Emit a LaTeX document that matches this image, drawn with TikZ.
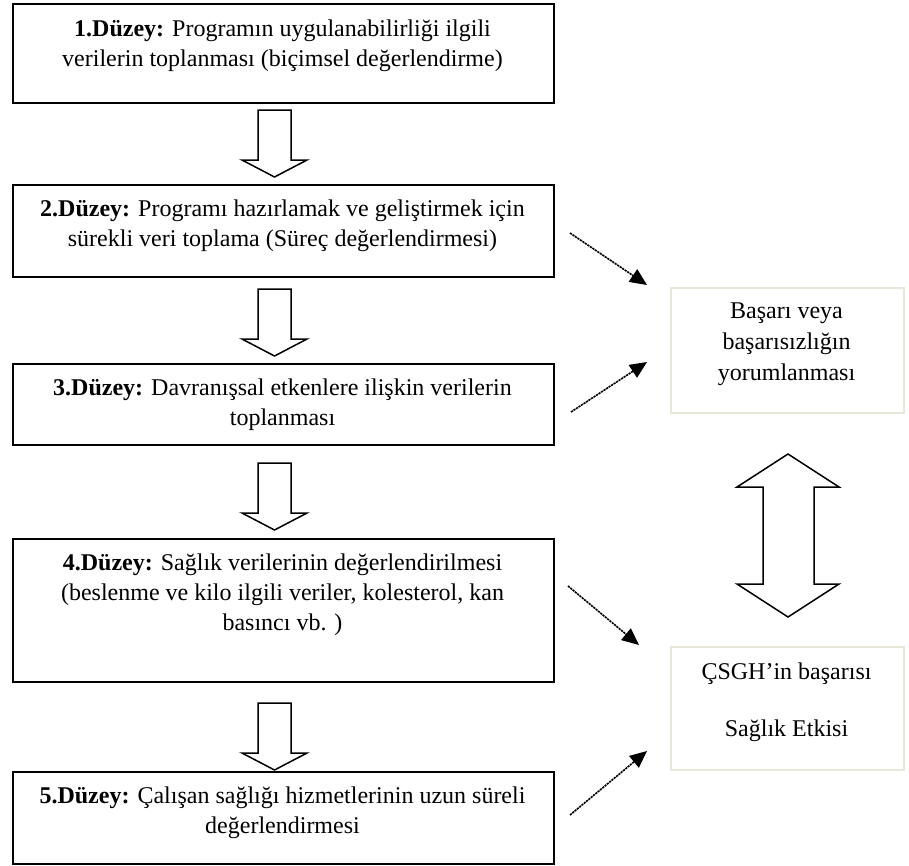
\documentclass[tikz,border=0pt]{standalone}
\usepackage{fontspec}
\setmainfont{Liberation Serif}
\usetikzlibrary{arrows.meta}
\definecolor{rborder}{HTML}{E9E6DA}
\begin{document}
\begin{tikzpicture}[x=1pt,y=-1pt,
  lbox/.style={draw=black, line width=1.6pt, minimum width=541pt, anchor=north west, inner sep=0pt},
  rbox/.style={draw=rborder, line width=1.8pt, minimum width=233pt, anchor=north west, inner sep=0pt},
  ltext/.style={font=\fontsize{24}{30}\selectfont, align=center, anchor=north, inner sep=0pt},
  hollow/.style={draw=black, fill=white, line width=1.5pt, line join=miter},
  dotarrow/.style={line width=1.6pt, dash pattern=on 2.2pt off 0.8pt, -{Triangle[length=17pt,width=15pt]}},
  downblock/.pic={\draw[hollow] (-16.5,0) -- (16.5,0) -- (16.5,50) -- (32.5,50) -- (0,67) -- (-32.5,50) -- (-16.5,50) -- cycle;}
]
\useasboundingbox (0,0) rectangle (909,865);
\fill[white] (0,0) rectangle (909,865);

% left boxes
\node[lbox, minimum height=99pt] (b1) at (12,3) {};
\node[lbox, minimum height=92pt] (b2) at (12,184) {};
\node[lbox, minimum height=81pt] (b3) at (12,363) {};
\node[lbox, minimum height=143pt] (b4) at (12,538) {};
\node[lbox, minimum height=92pt] (b5) at (12,771) {};

\node[ltext] (t1) at (282.5,20) {\textbf{1.Düzey:} Programın uygulanabilirliği ilgili\\verilerin toplanması (biçimsel değerlendirme)};
\node[ltext] (t2) at (282.5,200) {\textbf{2.Düzey:} Programı hazırlamak ve geliştirmek için\\sürekli veri toplama (Süreç değerlendirmesi)};
\node[ltext] (t3) at (282.5,379) {\textbf{3.Düzey:} Davranışsal etkenlere ilişkin verilerin\\toplanması};
\node[ltext] (t4) at (282.5,554) {\textbf{4.Düzey:} Sağlık verilerinin değerlendirilmesi\\(beslenme ve kilo ilgili veriler, kolesterol, kan\\basıncı vb. )};
\node[ltext] (t5) at (282.5,787) {\textbf{5.Düzey:} Çalışan sağlığı hizmetlerinin uzun süreli\\değerlendirmesi};

% hollow arrows
\pic at (274.5,110) {downblock};
\pic at (274.5,289) {downblock};
\pic at (274.5,463) {downblock};
\pic at (274.5,703) {downblock};

% right boxes
\node[rbox, minimum height=125pt] (r1) at (670,287) {};
\node[rbox, minimum height=123pt] (r2) at (670,646) {};
\node[ltext, font=\fontsize{24}{31}\selectfont] (rt1) at (786.5,303) {Başarı veya\\başarısızlığın\\yorumlanması};
\node[ltext] (rt2) at (786.5,663) {ÇSGH’in başarısı\\[27pt]Sağlık Etkisi};

% double arrow
\draw[hollow] (788,454) -- (839,487) -- (814,487) -- (814,584) -- (839,584) -- (788,617)
  -- (737,584) -- (763,584) -- (763,487) -- (737,487) -- cycle;

% dotted arrows
\coordinate (a1s) at (570,233); \coordinate (a1e) at (647,285);
\coordinate (a2s) at (571,412); \coordinate (a2e) at (647,362);
\coordinate (a3s) at (568,586); \coordinate (a3e) at (639,645);
\coordinate (a4s) at (570,815); \coordinate (a4e) at (647,751);
\draw[dotarrow] (a1s) -- (a1e);
\draw[dotarrow] (a2s) -- (a2e);
\draw[dotarrow] (a3s) -- (a3e);
\draw[dotarrow] (a4s) -- (a4e);
\end{tikzpicture}
\end{document}
